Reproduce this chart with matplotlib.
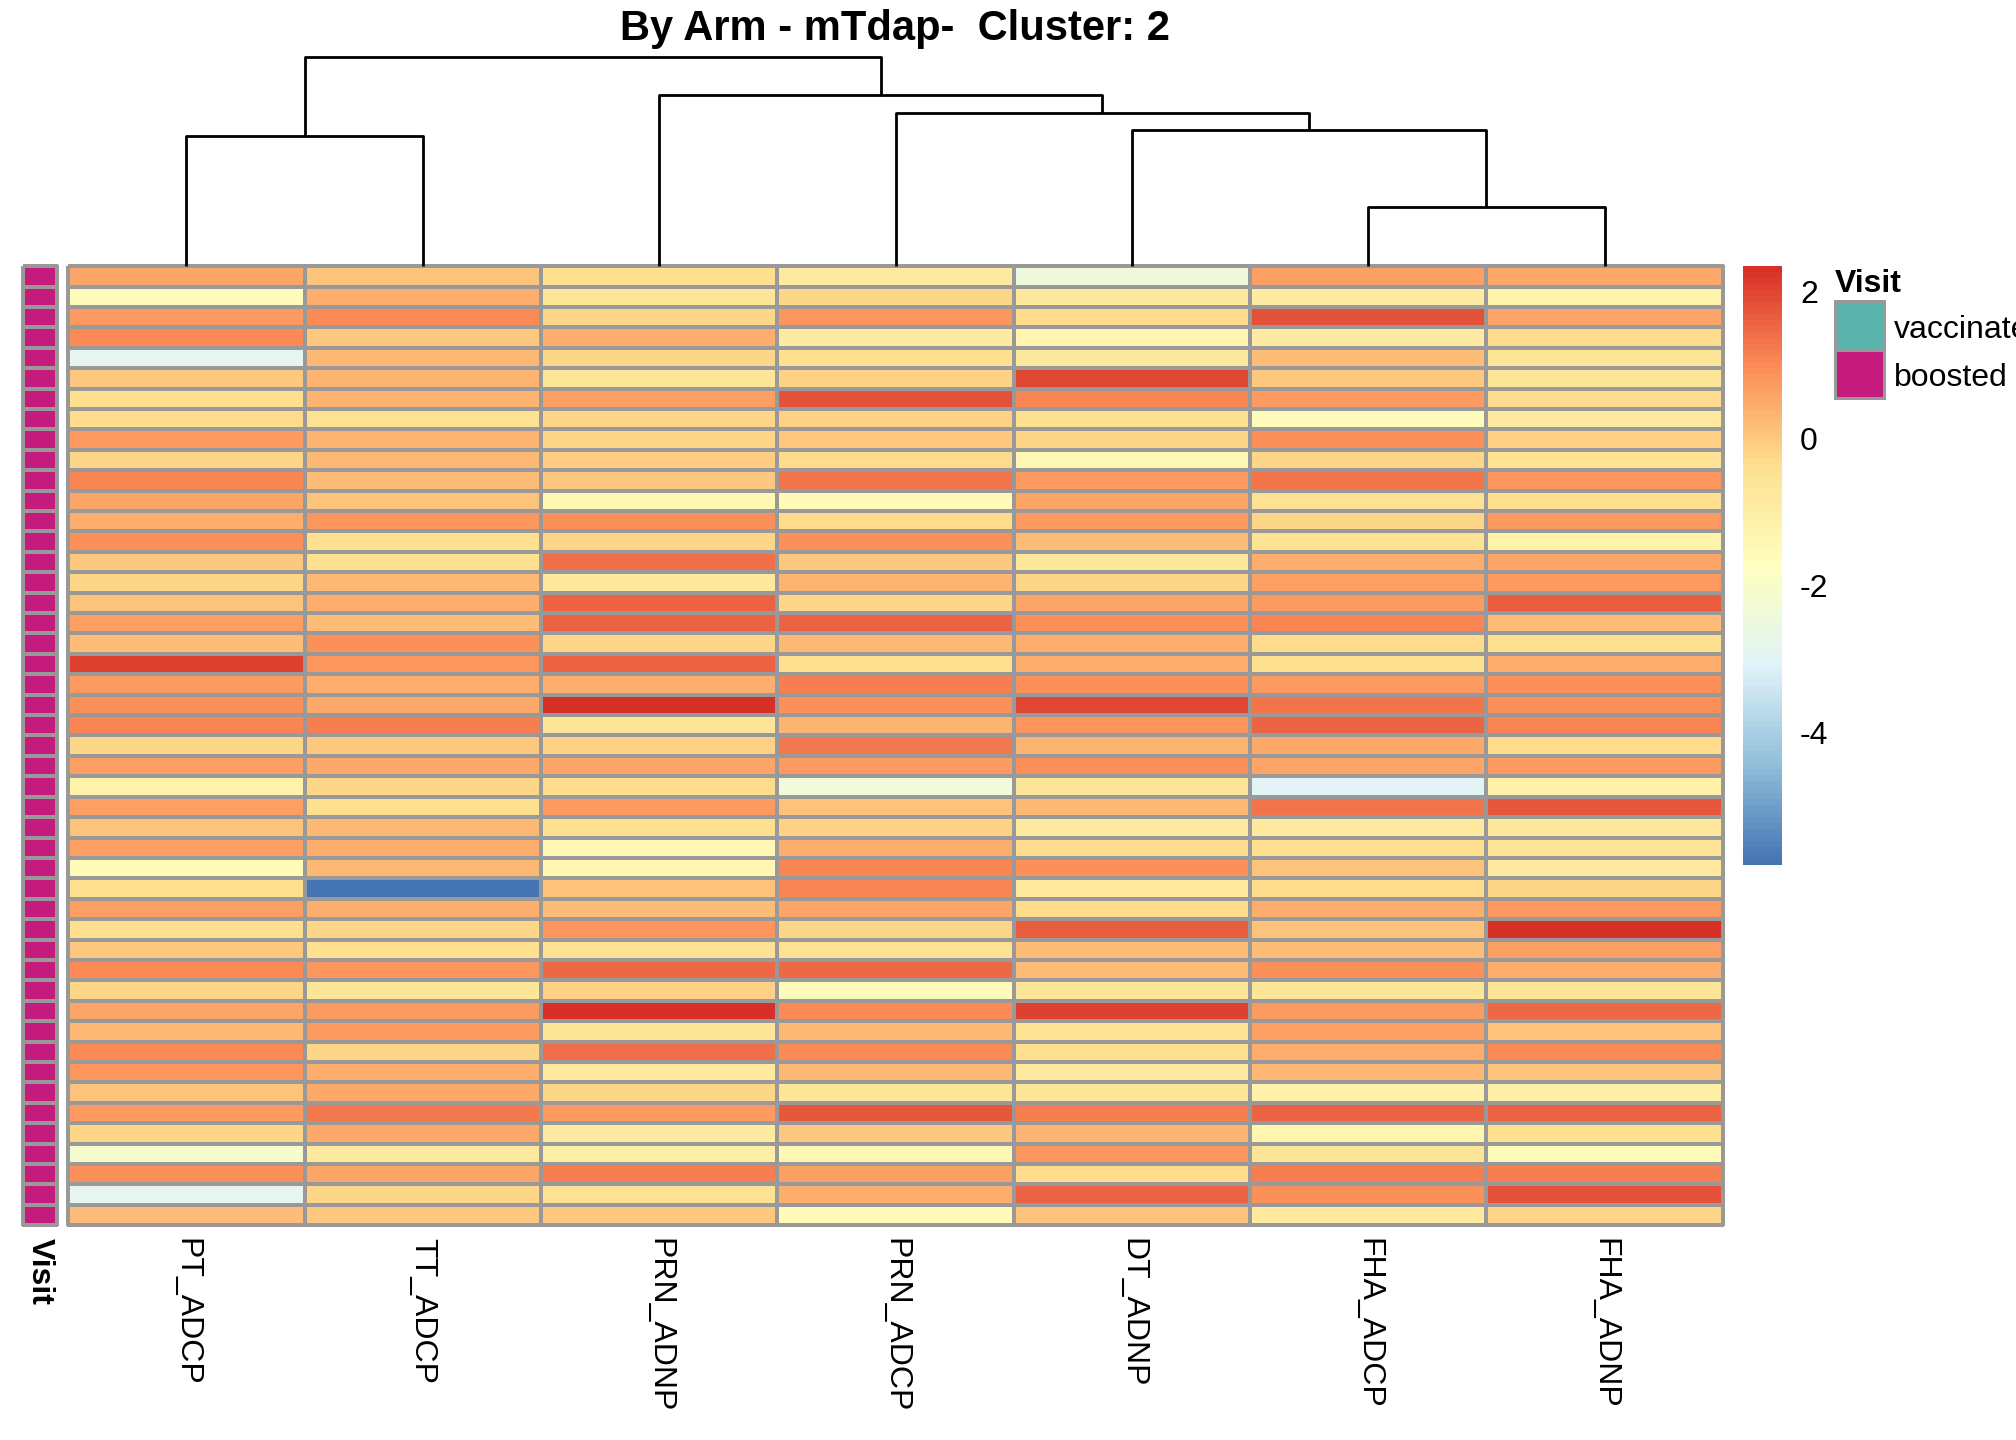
import matplotlib
matplotlib.use("Agg")
import matplotlib.pyplot as plt
import numpy as np
from matplotlib.colors import LinearSegmentedColormap, ListedColormap, Normalize
from matplotlib.cm import ScalarMappable
from matplotlib.patches import Rectangle

plt.rcParams["font.family"] = ["Liberation Sans", "DejaVu Sans"]
plt.rcParams["axes.unicode_minus"] = False

# columns in dendrogram order
columns = ["PT_ADCP", "TT_ADCP", "PRN_ADNP", "PRN_ADCP", "DT_ADNP", "FHA_ADCP", "FHA_ADNP"]

# scaled values, one list per column, rows top to bottom
pt_adcp = [0.6, -1.6, 0.75, 1.0, -2.8, 0.05, -0.4, -0.3, 0.8, -0.2, 1.05, 0.6, 0.4, 0.95, 0.05, -0.2,
           0.1, 0.65, 0.15, 2.1, 0.75, 0.95, 1.05, -0.25, 0.7, -1.2, 0.65, 0.1, 0.65, -1.5, -0.4,
           0.65, -0.4, 0.05, 1.0, -0.25, 0.6, 0.25, 1.0, 0.85, 0.1, 0.8, -0.25, -2.1, 0.95, -2.8, 0.15]
tt_adcp = [0.1, 0.45, 1.0, 0.0, 0.25, 0.35, 0.35, -0.45, 0.35, 0.3, 0.15, 0.1, 0.85, -0.4, -0.35, 0.25,
           0.4, 0.15, 0.9, 0.85, 0.4, 0.55, 1.15, 0.0, 0.5, -0.2, -0.35, 0.25, 0.45, 0.3, -5.8,
           0.4, -0.2, -0.4, 0.85, -0.65, 0.8, 0.8, -0.2, 0.45, 0.55, 1.25, 0.55, -0.75, 0.6, -0.2, 0.05]
prn_adnp = [-0.4, -0.6, -0.25, 0.4, -0.2, -0.65, 0.65, -0.2, -0.25, -0.05, 0.05, -1.35, 0.9, -0.25, 1.4, -0.7,
            1.6, 1.55, -0.25, 1.6, 0.45, 2.3, -0.55, -0.15, 0.6, -0.3, 0.75, -0.4, -1.4, -1.35, 0.1,
            0.2, 0.85, -0.45, 1.5, -0.15, 2.35, -0.6, 1.4, -0.75, -0.2, 0.8, -0.85, -1.05, 1.15, -0.5, 0.05]
prn_adcp = [-0.8, -0.2, 0.85, -0.9, -0.35, -0.15, 1.8, -0.15, 0.0, -0.3, 1.3, -1.5, -0.3, 0.9, 0.0, 0.35,
            -0.25, 1.6, 0.3, -0.35, 1.15, 0.95, 0.35, 1.25, 0.8, -2.3, 0.1, -0.15, 0.45, 1.05, 1.05,
            0.6, -0.25, -0.45, 1.5, -1.6, 1.0, 0.3, 1.0, 0.3, -0.65, 1.75, 0.05, -1.4, 0.7, 0.4, -1.5]
dt_adnp = [-2.4, -0.7, -0.3, -1.3, -0.7, 2.0, 1.05, -0.4, -0.2, -1.4, 0.8, 0.6, 0.75, 0.15, -0.7, -0.25,
           0.6, 0.95, 0.4, 0.45, 0.95, 2.0, 0.85, 0.35, 0.9, -0.6, 0.25, -0.75, -0.3, 0.9, -0.75,
           -0.3, 1.65, 0.2, 0.15, -0.6, 2.1, -0.45, -0.4, -0.9, -0.6, 1.2, 0.35, 0.85, -0.3, 1.55, 0.1]
fha_adcp = [0.7, -0.9, 1.8, -0.9, 0.2, 0.05, 0.75, -1.6, 0.9, -0.2, 1.35, -0.5, -0.2, -0.5, 0.4, 0.7,
            0.75, 1.05, -0.3, -0.35, 0.75, 1.3, 1.55, 0.55, 0.6, -3.0, 1.35, -0.75, -0.35, 0.1, -0.3,
            0.45, 0.1, 0.2, 0.9, -0.6, 0.75, 0.7, 0.45, 0.3, -1.15, 1.55, -1.25, -0.6, 1.15, 0.95, -0.75]
fha_adnp = [0.5, -1.2, 0.6, -0.3, -0.6, -0.6, -0.3, -0.8, -0.15, -0.5, 0.85, -0.4, 0.75, -1.2, 0.6, 0.75,
            1.65, 0.15, -0.4, 0.4, 0.9, 0.95, 1.05, -0.3, 0.8, -1.15, 1.75, -0.7, -0.55, -0.8, -0.2,
            0.75, 2.3, 0.7, 0.4, -0.55, 1.5, 0.1, 1.0, 0.1, -1.05, 1.55, -0.35, -1.6, 1.15, 1.8, -0.2]

visit_levels = ["vaccinated", "boosted"]
visit_colors = ["#5AB4AC", "#C51B7D"]
visit = ["boosted"] * len(pt_adcp)

# column dendrogram merges (left node, right node, height); new nodes numbered from 7
merges = [(5, 6, 46), (4, 7, 106), (3, 8, 119), (2, 9, 133), (0, 1, 101), (11, 10, 163)]

mat = np.column_stack([pt_adcp, tt_adcp, prn_adnp, prn_adcp, dt_adnp, fha_adcp, fha_adnp])
nrow, ncol = mat.shape

palette = ["#4575B4", "#91BFDB", "#E0F3F8", "#FFFFBF", "#FEE090", "#FC8D59", "#D73027"]
cmap = LinearSegmentedColormap.from_list("rdylbu_r", palette, N=100)
norm = Normalize(vmin=mat.min(), vmax=mat.max())
grey = "#999999"

fig = plt.figure(figsize=(14, 10), dpi=144)
L, R = 0.0338, 0.8546
B, T = 0.1491, 0.8152

# heatmap
ax = fig.add_axes([L, B, R - L, T - B])
qm = ax.pcolormesh(np.arange(ncol + 1), np.arange(nrow + 1), mat, cmap=cmap, norm=norm,
                   edgecolors=grey, linewidth=1.1)
qm.set_clip_on(False)
ax.set_xlim(0, ncol)
ax.set_ylim(nrow, 0)
ax.axis("off")

# Visit annotation column
ax_ann = fig.add_axes([0.0115, B, 0.0166, T - B])
codes = np.array([[visit_levels.index(v)] for v in visit])
qa = ax_ann.pcolormesh(np.arange(2), np.arange(nrow + 1), codes, cmap=ListedColormap(visit_colors),
                       vmin=-0.5, vmax=1.5, edgecolors=grey, linewidth=1.1)
qa.set_clip_on(False)
ax_ann.set_xlim(0, 1)
ax_ann.set_ylim(nrow, 0)
ax_ann.axis("off")

# dendrogram
ax_d = fig.add_axes([L, T, R - L, 0.9607 - T])
xpos = {i: i + 0.5 for i in range(ncol)}
hpos = {i: 0.0 for i in range(ncol)}
for k, (a, b, h) in enumerate(merges):
    ax_d.plot([xpos[a], xpos[a], xpos[b], xpos[b]], [hpos[a], h, h, hpos[b]],
              color="black", lw=1.4, solid_capstyle="butt", clip_on=False)
    xpos[ncol + k] = (xpos[a] + xpos[b]) / 2
    hpos[ncol + k] = h
ax_d.set_xlim(0, ncol)
ax_d.set_ylim(0, max(m[2] for m in merges))
ax_d.axis("off")

# colour legend
cax = fig.add_axes([0.8648, 0.3991, 0.0191, 0.4161])
cb = fig.colorbar(ScalarMappable(norm=norm, cmap=cmap), cax=cax, ticks=[-4, -2, 0, 2])
cb.outline.set_visible(False)
cax.tick_params(length=0, labelsize=16, pad=9)

# Visit legend
fig.text(0.9101, 0.8030, "Visit", fontsize=16, fontweight="bold", ha="left", va="center")
box_top = 0.7911
box_h = 0.0339
for i, (lev, col) in enumerate(zip(visit_levels, visit_colors)):
    y0 = box_top - (i + 1) * box_h
    fig.add_artist(Rectangle((0.9101, y0), 0.0242, box_h, transform=fig.transFigure,
                             facecolor=col, edgecolor=grey, lw=1.5))
    fig.text(0.9394, y0 + box_h / 2 - 0.003, lev, fontsize=16, ha="left", va="center")

# column labels
for i, name in enumerate(columns):
    fig.text(L + (i + 0.5) / ncol * (R - L), 0.1402, name, fontsize=16, rotation=270,
             ha="center", va="top")
fig.text(0.0198, 0.1402, "Visit", fontsize=16, fontweight="bold", rotation=270, ha="center", va="top")

fig.text(0.4439, 0.980, "By Arm - mTdap-  Cluster: 2", fontsize=20.8, fontweight="bold",
         ha="center", va="center")

fig.savefig("out.png", dpi=144)
